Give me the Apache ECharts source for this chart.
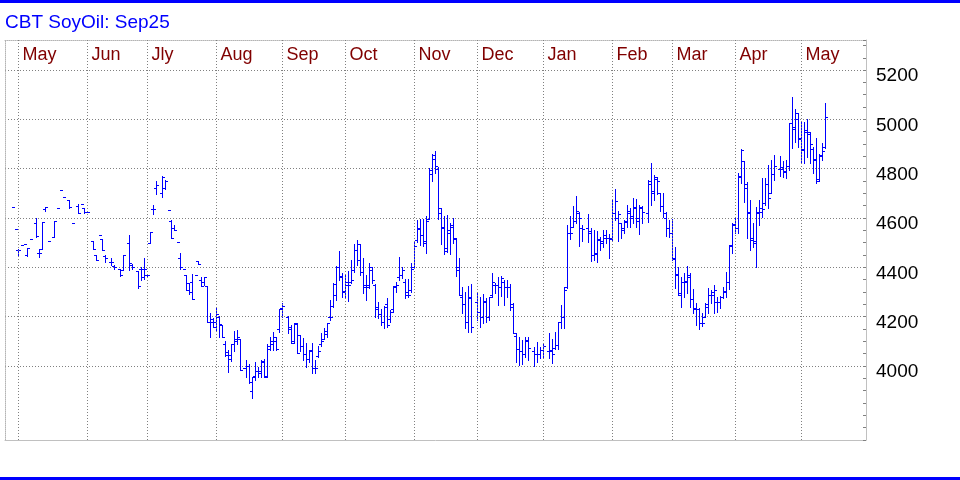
<!DOCTYPE html>
<html>
<head>
<meta charset="utf-8">
<script src="https://cdn.jsdelivr.net/npm/echarts@6/dist/echarts.min.js"></script>
<style>
  html, body { margin: 0; padding: 0; background: #ffffff; }
  #chart { width: 960px; height: 480px; }
</style>
</head>
<body>
<div id="chart"></div>
<script>
// ---- categories: one slot per weekday, starting Thu 2024-04-25 ----
const firstSlotDate = '2024-04-25';
const slotCount = 287;
const monthNames = ['Jan', 'Feb', 'Mar', 'Apr', 'May', 'Jun', 'Jly', 'Aug', 'Sep', 'Oct', 'Nov', 'Dec'];

// ---- price axis ----
const priceMin = 3700;
const priceMax = 5322;
const priceStep = 50;
const priceLabels = [4000, 4200, 4400, 4600, 4800, 5000, 5200];

// ---- daily bars: [weekday slot, open, high, low, close] ----
const bars = [
  [2,4645,4645,4645,4645],[3,4554,4554,4554,4554],[4,4470,4474,4447,4472],[5,4489,4489,4489,4489],
  [6,4493,4493,4493,4493],[7,4450,4477,4447,4477],[8,4516,4516,4516,4516],[10,4580,4599,4524,4527],
  [11,4460,4474,4443,4458],[12,4475,4585,4473,4585],[13,4635,4643,4630,4643],[14,4507,4507,4507,4507],
  [16,4522,4588,4522,4588],[17,4639,4639,4639,4639],[18,4713,4713,4713,4713],[19,4684,4684,4684,4684],
  [21,4673,4673,4639,4645],[22,4578,4578,4578,4578],[24,4650,4655,4622,4622],[25,4655,4655,4655,4655],
  [26,4639,4639,4622,4625],[27,4623,4623,4623,4623],[29,4507,4507,4473,4473],[30,4450,4450,4430,4430],
  [31,4531,4531,4531,4531],[32,4515,4515,4470,4470],[33,4445,4452,4423,4437],[35,4420,4440,4410,4420],
  [36,4405,4410,4395,4400],[38,4395,4395,4365,4370],[39,4390,4451,4389,4450],[41,4500,4531,4389,4416],
  [42,4410,4413,4394,4400],[44,4386,4386,4315,4324],[45,4395,4403,4349,4360],[46,4393,4437,4353,4393],
  [47,4370,4372,4366,4368],[48,4500,4543,4497,4543],[49,4637,4653,4615,4637],[50,4720,4750,4696,4735],
  [52,4700,4770,4686,4765],[53,4720,4754,4718,4750],[54,4632,4632,4632,4632],[55,4590,4592,4518,4518],
  [56,4560,4572,4551,4551],[57,4503,4503,4503,4503],[58,4440,4457,4393,4400],[59,4393,4393,4393,4393],
  [60,4370,4371,4308,4308],[61,4338,4338,4292,4300],[62,4340,4373,4271,4271],[63,4371,4371,4371,4371],
  [64,4425,4427,4412,4412],[65,4350,4362,4324,4324],[66,4340,4362,4328,4362],[67,4324,4324,4177,4177],
  [68,4180,4214,4119,4190],[69,4177,4193,4160,4177],[70,4160,4237,4140,4211],[71,4200,4204,4119,4172],
  [72,4166,4166,4119,4119],[73,4090,4100,4042,4058],[74,4046,4065,3977,4046],[75,4030,4089,4022,4089],
  [76,4090,4142,4061,4102],[77,4110,4146,4088,4119],[78,4108,4108,3984,3984],[79,3990,3990,3990,3990],
  [80,3990,4024,3957,4000],[81,4000,4007,3930,3935],[82,3900,3957,3872,3957],[83,3960,4016,3943,3980],
  [84,3980,3997,3957,3980],[85,3970,4024,3957,4016],[86,4020,4028,3954,3954],[87,3960,4089,3954,4070],
  [88,4080,4116,4065,4100],[89,4090,4136,4065,4102],[90,4118,4118,4065,4070],[91,4150,4231,4139,4231],
  [92,4235,4257,4200,4243],[94,4200,4203,4135,4160],[95,4150,4166,4094,4094],[96,4100,4173,4094,4173],
  [97,4170,4173,4051,4051],[98,4126,4126,4062,4080],[99,4080,4112,4024,4050],[100,4050,4094,3995,4030],
  [101,4030,4065,4017,4065],[102,4060,4092,3970,3990],[103,3990,4024,3970,3990],[104,4040,4081,4038,4060],
  [105,4090,4133,4083,4100],[106,4110,4153,4110,4140],[107,4130,4176,4119,4176],[108,4200,4267,4186,4200],
  [109,4245,4335,4240,4333],[110,4290,4405,4267,4400],[111,4400,4466,4349,4365],[112,4360,4376,4281,4303],
  [113,4300,4369,4281,4327],[114,4340,4385,4264,4327],[115,4340,4430,4335,4350],[116,4390,4493,4382,4470],
  [117,4470,4511,4410,4430],[118,4493,4493,4369,4380],[119,4380,4437,4295,4320],[120,4330,4369,4267,4320],
  [121,4330,4416,4318,4400],[122,4390,4400,4335,4350],[123,4330,4332,4200,4230],[124,4240,4260,4196,4210],
  [125,4210,4230,4166,4180],[126,4180,4243,4153,4240],[127,4250,4274,4159,4165],[128,4190,4227,4180,4220],
  [129,4230,4325,4220,4325],[130,4320,4342,4301,4330],[131,4360,4444,4349,4370],[132,4370,4403,4356,4390],
  [133,4340,4351,4275,4290],[134,4300,4351,4281,4290],[135,4310,4419,4301,4393],[136,4400,4504,4396,4485],
  [137,4510,4592,4504,4555],[138,4560,4596,4490,4530],[139,4530,4596,4486,4505],[140,4500,4608,4459,4590],
  [141,4596,4801,4596,4795],[142,4780,4859,4751,4855],[143,4840,4872,4781,4810],[144,4800,4808,4595,4639],
  [145,4620,4639,4495,4565],[146,4560,4608,4456,4465],[147,4480,4612,4464,4550],[148,4540,4581,4456,4565],
  [149,4570,4599,4497,4520],[150,4515,4518,4365,4390],[151,4400,4437,4288,4290],[152,4280,4321,4214,4250],
  [153,4250,4301,4153,4180],[154,4180,4324,4139,4275],[155,4280,4332,4139,4160],[157,4260,4297,4186,4220],
  [158,4220,4281,4159,4200],[159,4200,4292,4173,4265],[160,4260,4274,4180,4200],[161,4200,4281,4186,4281],
  [162,4290,4378,4281,4340],[163,4330,4338,4295,4330],[164,4330,4360,4247,4320],[165,4320,4365,4284,4355],
  [166,4340,4349,4247,4320],[167,4320,4349,4281,4320],[168,4320,4331,4227,4240],[169,4250,4254,4132,4132],
  [170,4120,4132,4017,4070],[171,4070,4119,4004,4060],[172,4060,4105,4008,4050],[173,4050,4119,4038,4105],
  [174,4100,4119,4024,4075],[176,4060,4078,4000,4050],[177,4050,4098,4017,4050],[178,4050,4078,4031,4065],
  [179,4065,4089,4038,4080],[181,4060,4135,4031,4065],[182,4060,4108,4013,4050],[183,4075,4139,4071,4085],
  [184,4085,4180,4071,4180],[185,4180,4247,4153,4200],[186,4200,4321,4153,4310],[187,4320,4572,4315,4540],
  [188,4540,4608,4514,4540],[189,4565,4649,4562,4590],[190,4590,4689,4578,4630],[191,4620,4626,4486,4600],
  [192,4560,4572,4508,4555],[194,4560,4616,4504,4548],[195,4540,4558,4427,4450],[196,4450,4551,4430,4455],
  [197,4460,4549,4423,4515],[198,4510,4524,4470,4505],[199,4500,4551,4484,4530],[200,4520,4551,4497,4520],
  [201,4520,4534,4437,4517],[202,4520,4673,4511,4620],[203,4620,4716,4592,4670],[204,4600,4628,4508,4615],
  [205,4580,4581,4518,4550],[206,4560,4592,4538,4585],[207,4590,4653,4562,4630],[208,4620,4639,4565,4600],
  [209,4610,4680,4581,4645],[210,4640,4676,4562,4590],[211,4600,4653,4535,4645],[212,4640,4649,4581,4625],
  [214,4620,4754,4585,4750],[215,4740,4825,4653,4710],[216,4700,4774,4673,4765],[217,4760,4768,4697,4750],
  [218,4700,4700,4630,4650],[219,4650,4703,4603,4620],[220,4600,4626,4527,4560],[221,4560,4592,4524,4540],
  [222,4540,4595,4430,4435],[223,4440,4484,4315,4375],[224,4370,4403,4288,4295],[225,4290,4362,4238,4340],
  [226,4340,4378,4281,4345],[227,4340,4405,4295,4370],[228,4360,4376,4238,4270],[229,4270,4311,4214,4235],
  [230,4230,4254,4166,4230],[231,4230,4234,4150,4175],[232,4175,4214,4164,4175],[233,4200,4254,4200,4240],
  [234,4250,4315,4216,4290],[235,4290,4308,4254,4290],[236,4300,4328,4216,4310],[237,4260,4281,4220,4260],
  [238,4260,4284,4234,4278],[239,4280,4321,4274,4305],[240,4300,4382,4278,4340],[241,4340,4490,4311,4485],
  [242,4490,4578,4459,4575],[243,4570,4599,4538,4558],[244,4560,4781,4538,4765],[245,4770,4879,4741,4875],
  [246,4830,4831,4666,4740],[247,4720,4747,4518,4625],[248,4620,4673,4470,4510],[249,4520,4581,4484,4505],
  [250,4500,4646,4403,4625],[251,4620,4673,4572,4625],[252,4640,4761,4605,4635],[253,4660,4761,4653,4740],
  [254,4740,4814,4639,4680],[255,4700,4835,4700,4780],[256,4780,4855,4754,4810],[258,4800,4851,4770,4807],
  [259,4800,4833,4765,4785],[260,4790,4835,4761,4810],[261,4810,4984,4795,4984],[262,4984,5089,4883,4970],
  [263,4960,5041,4909,5027],[264,5000,5027,4887,4923],[265,4920,4990,4824,4876],[266,4880,4990,4824,4957],
  [267,4950,5000,4849,4950],[268,4940,4950,4822,4900],[269,4880,4887,4781,4835],[270,4840,4923,4743,4751],
  [271,4760,4859,4751,4855],[272,4850,4903,4835,4870],[273,4890,5068,4883,5008]
];

// ---- build category list (weekdays) ----
function weekdaysFrom(start, count) {
  const out = [];
  const d = new Date(start + 'T00:00:00Z');
  while (out.length < count) {
    const w = d.getUTCDay();
    if (w !== 0 && w !== 6) out.push(d.toISOString().slice(0, 10));
    d.setUTCDate(d.getUTCDate() + 1);
  }
  return out;
}
const dates = weekdaysFrom(firstSlotDate, slotCount);
const monthStart = dates.map((d, i) => i > 0 && d.slice(5, 7) !== dates[i - 1].slice(5, 7));
const monthStartDates = dates.filter((d, i) => monthStart[i]);

// split-line colours per tick of the price axis (only labelled levels drawn)
const tickValues = [];
for (let v = priceMin; v <= priceMax; v += priceStep) tickValues.push(v);
tickValues.push(priceMax);
const gridColors = tickValues.map(v => priceLabels.indexOf(v) >= 0 ? '#808080' : 'rgba(0,0,0,0)');

const FONT = '"Liberation Sans", Arial, Helvetica, sans-serif';
const BAR_COLOR = '#0000ff';

const chart = echarts.init(document.getElementById('chart'), null, { renderer: 'canvas' });

chart.setOption({
  animation: false,
  backgroundColor: '#ffffff',
  title: {
    text: 'CBT SoyOil: Sep25',
    left: 5,
    top: 13,
    padding: 0,
    textStyle: { color: '#0000ff', fontSize: 19, fontWeight: 'normal', fontFamily: FONT }
  },
  graphic: [
    { type: 'rect', left: 0, top: 0, shape: { width: 960, height: 3 }, style: { fill: '#0000ff' }, silent: true },
    { type: 'rect', left: 0, top: 477, shape: { width: 960, height: 3 }, style: { fill: '#0000ff' }, silent: true }
  ],
  grid: { left: 5, right: 94, top: 40, bottom: 40, containLabel: false },
  xAxis: [
    {
      type: 'category',
      data: dates,
      position: 'top',
      boundaryGap: true,
      axisLine: { show: true, lineStyle: { color: '#b4b4b4', type: [1, 1], width: 1 } },
      axisTick: { show: false },
      splitLine: { show: false },
      axisLabel: {
        show: true,
        inside: true,
        interval: (i) => monthStart[i],
        formatter: (v) => monthNames[parseInt(v.slice(5, 7), 10) - 1],
        align: 'left',
        margin: 6,
        padding: [0, 0, 0, 4],
        color: '#800000',
        fontSize: 18,
        fontFamily: FONT
      }
    },
    {
      type: 'category',
      data: dates,
      position: 'bottom',
      boundaryGap: true,
      axisLine: { show: true, lineStyle: { color: '#c0c0c0', width: 1 } },
      axisTick: { show: false },
      axisLabel: { show: false },
      splitLine: { show: false }
    }
  ],
  yAxis: [
    {
      type: 'value',
      position: 'right',
      min: priceMin,
      max: priceMax,
      interval: priceStep,
      axisLine: { show: true, lineStyle: { color: '#c0c0c0', width: 1 } },
      axisTick: { show: true, inside: true, length: 3, lineStyle: { color: '#808080' } },
      axisLabel: {
        show: true,
        margin: 10,
        formatter: (v) => (priceLabels.indexOf(v) >= 0 ? String(v) : ''),
        color: '#000000',
        fontSize: 19,
        fontFamily: FONT,
        verticalAlign: 'top',
        lineHeight: 12
      },
      splitLine: { show: true, lineStyle: { color: gridColors, type: [1, 2], width: 1 } }
    },
    {
      type: 'value',
      position: 'left',
      min: priceMin,
      max: priceMax,
      interval: priceStep,
      axisLine: { show: true, lineStyle: { color: '#b4b4b4', type: [1, 1], width: 1 } },
      axisTick: { show: false },
      axisLabel: { show: false },
      splitLine: { show: false }
    }
  ],
  series: [
    {
      type: 'custom',
      xAxisIndex: 0,
      yAxisIndex: 0,
      data: bars,
      encode: { x: 0, y: [1, 2, 3, 4] },
      silent: true,
      renderItem: function (params, api) {
        const k = api.value(0);
        const o = api.value(1), h = api.value(2), l = api.value(3), c = api.value(4);
        const pH = api.coord([k, h]);
        const pL = api.coord([k, l]);
        const pO = api.coord([k, o]);
        const pC = api.coord([k, c]);
        const x = Math.floor(pH[0]) + 0.5;
        const yTop = Math.round(pH[1]);
        const yBot = Math.round(pL[1]);
        const yO = Math.round(pO[1]) + 0.5;
        const yC = Math.round(pC[1]) + 0.5;
        const st = { stroke: BAR_COLOR, lineWidth: 1, fill: null };
        const kids = [
          { type: 'line', shape: { x1: x, y1: yTop, x2: x, y2: yBot + 1 }, style: st },
          { type: 'line', shape: { x1: x - 0.5, y1: yC, x2: x + 2.5, y2: yC }, style: st }
        ];
        if (h !== l) {
          kids.push({ type: 'line', shape: { x1: x - 2.5, y1: yO, x2: x + 0.5, y2: yO }, style: st });
        }
        return { type: 'group', children: kids };
      },
      markLine: {
        silent: true,
        symbol: ['none', 'none'],
        animation: false,
        label: { show: false },
        emphasis: { disabled: true },
        lineStyle: { color: '#808080', type: [1, 2], width: 1 },
        data: monthStartDates.map(d => ({ xAxis: d }))
      }
    }
  ]
});
</script>
</body>
</html>
